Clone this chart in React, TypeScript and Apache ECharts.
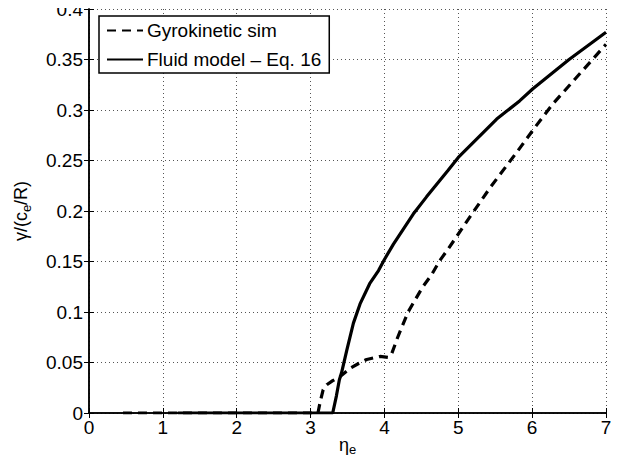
import React, { useEffect, useRef } from "react";
import * as echarts from "echarts";

const gyroX = [0.46, 3.1, 3.13, 3.17, 3.22, 3.3, 3.4, 3.53, 3.65, 3.76, 3.94, 4.05, 4.1, 4.18, 4.32, 4.52, 4.64, 4.75, 4.86, 4.98, 5.09, 5.43, 5.79, 6.04, 6.28, 6.5, 7.0];
const gyroY = [0, 0, 0.011, 0.023, 0.028, 0.032, 0.036, 0.044, 0.049, 0.053, 0.056, 0.055, 0.059, 0.075, 0.1, 0.125, 0.137, 0.151, 0.162, 0.175, 0.187, 0.223, 0.258, 0.283, 0.306, 0.324, 0.365];

const fluidX = [1.2, 3.3, 3.35, 3.39, 3.42, 3.49, 3.58, 3.67, 3.8, 3.92, 4.0, 4.12, 4.39, 4.57, 4.86, 5.0, 5.52, 5.83, 6.01, 6.5, 7.0];
const fluidY = [0, 0, 0.017, 0.033, 0.04, 0.062, 0.089, 0.108, 0.128, 0.141, 0.152, 0.167, 0.197, 0.214, 0.24, 0.253, 0.291, 0.309, 0.321, 0.35, 0.377];

const seriesNames = ["Gyrokinetic sim", "Fluid model \u2013 Eq. 16"];
const xTicks = { min: 0, max: 7, interval: 1 };
const yTicks = { min: 0, max: 0.4, interval: 0.05 };

const FONT = "'Liberation Sans', Arial, Helvetica, sans-serif";

export default function App() {
  const ref = useRef<HTMLDivElement>(null);
  useEffect(() => {
    if (!ref.current) return;
    const chart = echarts.init(ref.current, undefined, { renderer: "svg" });
    const gyro = gyroX.map((x, i) => [x, gyroY[i]]);
    const fluid = fluidX.map((x, i) => [x, fluidY[i]]);
    const axisLine = { show: true, lineStyle: { color: "#000", width: 1.5 } };
    const tickIn = { show: true, inside: true, length: 5, lineStyle: { color: "#000", width: 1 } };
    const gridStyle = { type: [1, 3], color: "#555", width: 1, cap: "butt" };
    chart.setOption({
      animation: false,
      backgroundColor: "#fff",
      textStyle: { fontFamily: FONT },
      grid: { left: 89, right: 21, top: 9, bottom: 54, containLabel: false, outerBoundsMode: "none" },
      legend: {
        left: 99,
        top: 16,
        orient: "vertical",
        data: seriesNames,
        backgroundColor: "#fff",
        borderColor: "#000",
        borderWidth: 1.5,
        borderRadius: 0,
        padding: [5, 8, 4, 7],
        itemWidth: 36,
        itemHeight: 16,
        itemGap: 10,
        itemStyle: { opacity: 0 },
        textStyle: { fontFamily: FONT, fontSize: 19, color: "#000", padding: [0, 0, 0, -1] },
      },
      xAxis: [
        {
          type: "value",
          ...xTicks,
          position: "bottom",
          axisLine,
          axisTick: tickIn,
          axisLabel: { color: "#000", fontSize: 19, fontFamily: FONT, margin: 5 },
          splitLine: { show: true, lineStyle: gridStyle },
          name: "{a|\u03b7}{s|e}",
          nameLocation: "middle",
          nameGap: 20,
          nameMoveOverlap: false,
          nameTextStyle: {
            rich: {
              a: { fontSize: 18, fontFamily: FONT, color: "#000" },
              s: { fontSize: 13, fontFamily: FONT, color: "#000", padding: [10, 0, 0, 0] },
            },
          },
        },
        {
          type: "value",
          ...xTicks,
          position: "top",
          axisLine,
          axisTick: tickIn,
          axisLabel: { show: false },
          splitLine: { show: false },
        },
      ],
      yAxis: [
        {
          type: "value",
          ...yTicks,
          position: "left",
          axisLine,
          axisTick: tickIn,
          axisLabel: { color: "#000", fontSize: 19, fontFamily: FONT, margin: 6 },
          splitLine: { show: true, lineStyle: gridStyle },
          name: "{a|\u03b3/(c}{s|e}{a|/R)}",
          nameLocation: "middle",
          nameRotate: 90,
          nameGap: 56,
          nameMoveOverlap: false,
          nameTextStyle: {
            rich: {
              a: { fontSize: 18, fontFamily: FONT, color: "#000" },
              s: { fontSize: 13, fontFamily: FONT, color: "#000", padding: [12, 0, 0, 0] },
            },
          },
        },
        {
          type: "value",
          ...yTicks,
          position: "right",
          axisLine,
          axisTick: tickIn,
          axisLabel: { show: false },
          splitLine: { show: false },
        },
      ],
      series: [
        {
          name: seriesNames[0],
          type: "line",
          data: gyro,
          xAxisIndex: 0,
          yAxisIndex: 0,
          symbol: "none",
          showSymbol: false,
          lineStyle: { color: "#000", width: 3.2, type: [9, 6] },
          itemStyle: { color: "#000" },
          z: 3,
        },
        {
          name: seriesNames[1],
          type: "line",
          data: fluid,
          xAxisIndex: 0,
          yAxisIndex: 0,
          symbol: "none",
          showSymbol: false,
          lineStyle: { color: "#000", width: 3.2, type: "solid" },
          itemStyle: { color: "#000" },
          z: 4,
        },
      ],
    });
    return () => chart.dispose();
  }, []);
  return <div ref={ref} style={{ width: 627, height: 467, margin: -8 }} />;
}
